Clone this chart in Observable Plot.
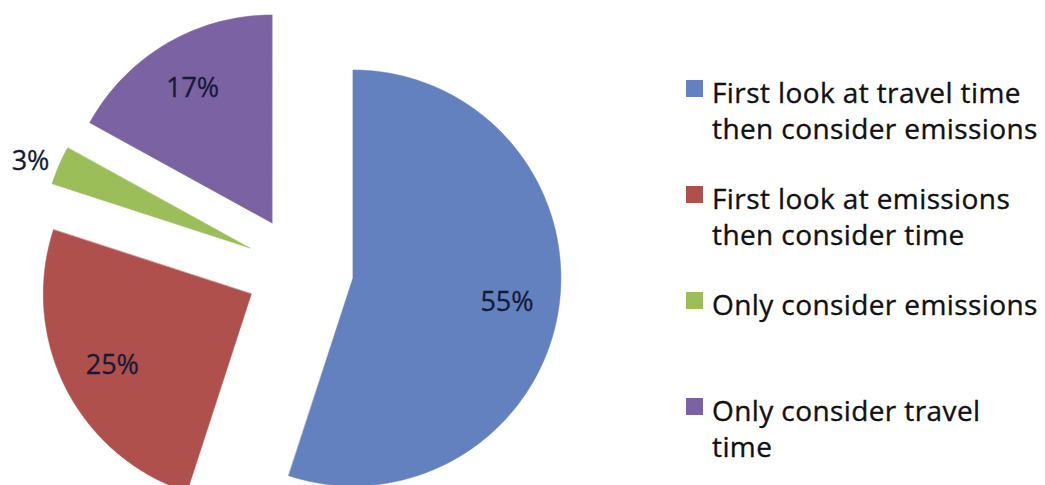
<!DOCTYPE html>
<html><head><meta charset="utf-8">
<script src="https://cdn.jsdelivr.net/npm/d3@7"></script>
<script src="https://cdn.jsdelivr.net/npm/@observablehq/plot@0.6"></script>
<style>
body{margin:0;background:#fff;font-family:"Open Sans",sans-serif;}
#wrap{position:relative;width:1045px;height:485px;overflow:hidden;}
#chart{position:absolute;left:0;top:0;}
#legend{position:absolute;left:686px;top:74px;}
.item{display:flex;align-items:flex-start;height:106px;}
.sw{width:17px;height:17px;margin-top:6px;flex:none;}
.lab{margin-left:9px;font-size:28px;line-height:36px;white-space:pre-line;color:#111;letter-spacing:0.4px;-webkit-text-stroke:0.35px #111;}
</style></head><body><div id="wrap"><div id="chart"></div><div id="legend"></div></div>
<script>
// ---- data ----
const categories = [
  "First look at travel time\nthen consider emissions",
  "First look at emissions\nthen consider time",
  "Only consider emissions",
  "Only consider travel\ntime"
];
const shares = [55, 25, 3, 17];
const pctLabels = ["55%", "25%", "3%", "17%"];
const sliceColors = ["#6381bf", "#af504c", "#9cbe59", "#7b62a3"];
const labelOutside = [false, false, true, false];

// ---- geometry (unit circle, clockwise from 12 o'clock) ----
const explode = 0.26;
const total = d3.sum(shares);
let cum = 0;
const slices = shares.map((v, i) => {
  const a0 = cum / total * 2 * Math.PI;
  cum += v;
  const a1 = cum / total * 2 * Math.PI;
  const mid = (a0 + a1) / 2;
  const ox = explode * Math.sin(mid), oy = explode * Math.cos(mid);
  const pts = [{x: ox, y: oy}];
  const n = Math.max(4, Math.ceil((a1 - a0) / (Math.PI / 180)));
  for (let k = 0; k <= n; k++) {
    const a = a0 + (a1 - a0) * k / n;
    pts.push({x: ox + Math.sin(a), y: oy + Math.cos(a)});
  }
  const lr = labelOutside[i] ? 1.05 : 0.75;
  return {i, pts, color: sliceColors[i], label: pctLabels[i], outside: labelOutside[i],
          lx: ox + lr * Math.sin(mid), ly: oy + lr * Math.cos(mid)};
});

const W = 680, H = 485, R = 208, CX = 299, CY = 269;
const marks = slices.map(s => Plot.line(s.pts, {x: "x", y: "y", fill: s.color, stroke: s.color, strokeWidth: 0.5, curve: "linear-closed"}));
marks.push(Plot.text(slices.filter(s => !s.outside), {x: "lx", y: "ly", text: "label", fontSize: 27, fill: "#151a35", stroke: "#151a35", strokeWidth: 0.3}));
marks.push(Plot.text(slices.filter(s => s.outside), {x: "lx", y: "ly", text: "label", fontSize: 27, fill: "#151a35", stroke: "#151a35", strokeWidth: 0.3, textAnchor: "end"}));

const chart = Plot.plot({
  width: W, height: H,
  margin: 0,
  style: {fontFamily: "Open Sans, sans-serif", background: "#fff"},
  x: {domain: [-CX / R, (W - CX) / R], axis: null},
  y: {domain: [-(H - CY) / R, CY / R], axis: null},
  marks
});
document.getElementById("chart").appendChild(chart);

const legend = document.getElementById("legend");
categories.forEach((c, i) => {
  const item = document.createElement("div");
  item.className = "item";
  const sw = document.createElement("div");
  sw.className = "sw";
  sw.style.background = sliceColors[i];
  const lab = document.createElement("div");
  lab.className = "lab";
  lab.textContent = c;
  item.appendChild(sw); item.appendChild(lab);
  legend.appendChild(item);
});
</script></body></html>
